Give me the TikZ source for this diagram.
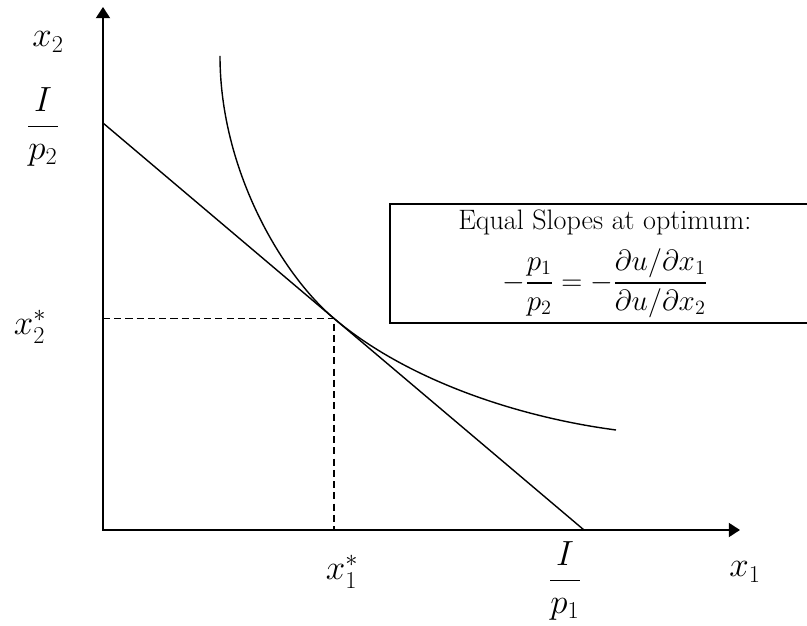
\documentclass[tikz,border=0pt]{standalone}
\usepackage{amsmath, amssymb}
\usetikzlibrary{arrows.meta, positioning}

\begin{document}
\begin{tikzpicture}[
		% Style des axes (fleches pleines aux deux bouts)
		axis/.style={
			line width=1.4pt,
			{Triangle[length=8pt,width=10pt]}-{Triangle[length=8pt,width=10pt]}
		},
		% Droite de budget et courbe d'indifference
		curve/.style={line width=1pt},
		% Pointilles vers les axes
		guide/.style={line width=0.8pt, dash pattern=on 5pt off 3pt},
		% Etiquettes des axes
		lbl/.style={font=\fontsize{26}{30}\selectfont, inner sep=0pt},
		% Cadre du commentaire
		infobox/.style={
			draw,
			line width=1.2pt,
			font=\fontsize{20}{24}\selectfont,
			align=center,
			minimum width=10.75cm,
			minimum height=2.9cm,
			inner sep=4pt,
			anchor=north west
		}
		]
		\clip (-2.575,-2.4) rectangle (17.6,13.25);
		
		% --- POINTS ---
		\coordinate (O) at (0,0);
		\coordinate (ytip) at (0,13.075);
		\coordinate (xtip) at (15.925,0);
		\coordinate (Btop) at (0,10.175);
		\coordinate (Bbot) at (12.025,0);
		\coordinate (T) at (5.775,5.289);
		\coordinate (Utop) at (2.925,11.85);
		\coordinate (Uend) at (12.825,2.5);
		
		% --- AXES ---
		\draw[axis] (ytip) -- (O) -- (xtip);
		
		% --- BUDGET ET INDIFFERENCE ---
		\draw[curve] (Btop) -- (Bbot);
		\draw[curve] (Utop) .. controls (2.925,9.0) and (4.475,6.389) .. (T)
			.. controls (7.575,3.766) and (10.325,2.83) .. (Uend);
		
		% --- OPTIMUM ---
		\draw[guide] (O |- T) -- (T) -- (T |- O);
		
		% --- ETIQUETTES ---
		\node[lbl] (lx2) at (-1.375,12.2) {$x_2$};
		\node[lbl] (lI2) at (-1.5,10.075) {$\dfrac{I}{p_2}$};
		\node[lbl] (lx2s) at (-1.825,5.075) {$x_2^*$};
		\node[lbl] (lx1s) at (5.975,-1.05) {$x_1^*$};
		\node[lbl] (lI1) at (11.55,-1.275) {$\dfrac{I}{p_1}$};
		\node[lbl] (lx1) at (16.05,-1.05) {$x_1$};
		
		% --- COMMENTAIRE ---
		\node[infobox] (note) at (7.15,8.175) {Equal Slopes at optimum:\\[9pt]
			{\fontsize{21}{25}\selectfont$\displaystyle -\frac{p_1}{p_2} = -\frac{\partial u/\partial x_1}{\partial u/\partial x_2}$}};
		
	\end{tikzpicture}
\end{document}
